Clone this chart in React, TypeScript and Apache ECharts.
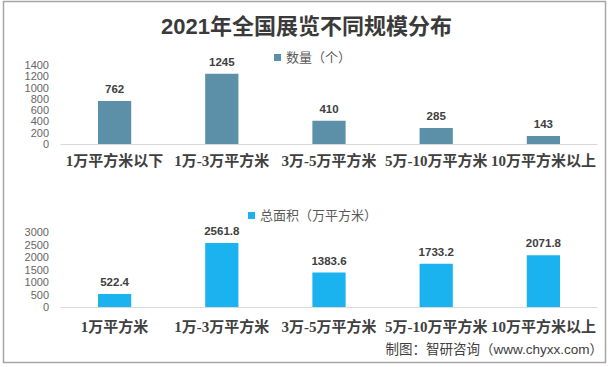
import React, { useEffect, useRef } from "react";
import * as echarts from "echarts";

const titleText = "2021年全国展览不同规模分布";
const countCategories = ["1万平方米以下", "1万-3万平方米", "3万-5万平方米", "5万-10万平方米", "10万平方米以上"];
const areaCategories = ["1万平方米", "1万-3万平方米", "3万-5万平方米", "5万-10万平方米", "10万平方米以上"];
const countValues = [762, 1245, 410, 285, 143];
const areaValues = [522.4, 2561.8, 1383.6, 1733.2, 2071.8];
const countName = "数量（个）";
const areaName = "总面积（万平方米）";
const sourceText = "制图：智研咨询（www.chyxx.com）";

const catFont = "'Liberation Serif', 'Noto Sans CJK SC', serif";
const sansFont = "'Liberation Sans', 'Noto Sans CJK SC', sans-serif";

export default function App() {
  const ref = useRef<HTMLDivElement>(null);
  useEffect(() => {
    document.body.style.margin = "0";
    const chart = echarts.init(ref.current!, null, { renderer: "svg" });
    const xAxisCommon = {
      type: "category",
      axisTick: { show: false },
      axisLine: { lineStyle: { color: "#d9d9d9", width: 1 } },
      axisLabel: {
        interval: 0,
        hideOverlap: false,
        fontSize: 15,
        fontWeight: "bold",
        fontFamily: catFont,
        color: "#404040",
        margin: 9,
      },
    };
    const yAxisCommon = {
      type: "value",
      min: 0,
      splitLine: { show: false },
      axisLine: { show: false },
      axisTick: { show: false },
      axisLabel: {
        fontSize: 11,
        color: "#666",
        margin: 12,
        fontFamily: sansFont,
        formatter: (v: number) => String(v),
      },
    };
    const labelCommon = {
      show: true,
      position: "top",
      distance: 6,
      fontSize: 11.5,
      fontWeight: "bold",
      color: "#404040",
      fontFamily: sansFont,
    };
    chart.setOption({
      animation: false,
      title: {
        text: titleText,
        left: "center",
        top: 10,
        textStyle: { fontSize: 22, fontWeight: "bold", color: "#3a3a3a", fontFamily: sansFont },
      },
      legend: [
        {
          data: [countName],
          left: 269,
          top: 46,
          icon: "rect",
          itemWidth: 7,
          itemHeight: 7,
          itemGap: 4,
          textStyle: { fontSize: 13, color: "#595959", fontFamily: sansFont },
        },
        {
          data: [areaName],
          left: 243,
          top: 204,
          icon: "rect",
          itemWidth: 7,
          itemHeight: 7,
          itemGap: 4,
          textStyle: { fontSize: 13, color: "#595959", fontFamily: sansFont },
        },
      ],
      grid: [
        { left: 61, right: 16, top: 65, height: 79 },
        { left: 61, right: 16, top: 232, height: 75 },
      ],
      xAxis: [
        { ...xAxisCommon, gridIndex: 0, data: countCategories },
        { ...xAxisCommon, gridIndex: 1, data: areaCategories, axisLabel: { ...xAxisCommon.axisLabel, margin: 12 } },
      ],
      yAxis: [
        { ...yAxisCommon, gridIndex: 0, max: 1400, interval: 200 },
        { ...yAxisCommon, gridIndex: 1, max: 3000, interval: 500 },
      ],
      series: [
        {
          name: countName,
          type: "bar",
          xAxisIndex: 0,
          yAxisIndex: 0,
          data: countValues,
          barWidth: "31%",
          itemStyle: { color: "#5B90A8" },
          label: labelCommon,
        },
        {
          name: areaName,
          type: "bar",
          xAxisIndex: 1,
          yAxisIndex: 1,
          data: areaValues,
          barWidth: "31%",
          itemStyle: { color: "#1BB3EF" },
          label: labelCommon,
        },
      ],
      graphic: [
        {
          type: "rect",
          shape: { x: 3.5, y: 1.5, width: 602, height: 361 },
          style: { fill: "none", stroke: "#a6a6a6", lineWidth: 1.5 },
          silent: true,
        },
        {
          type: "text",
          right: 10,
          top: 343,
          style: { text: sourceText, fontSize: 13.5, fill: "#404040", fontFamily: sansFont },
        },
      ],
    });
    return () => chart.dispose();
  }, []);
  return <div ref={ref} style={{ width: 613, height: 367 }} />;
}
